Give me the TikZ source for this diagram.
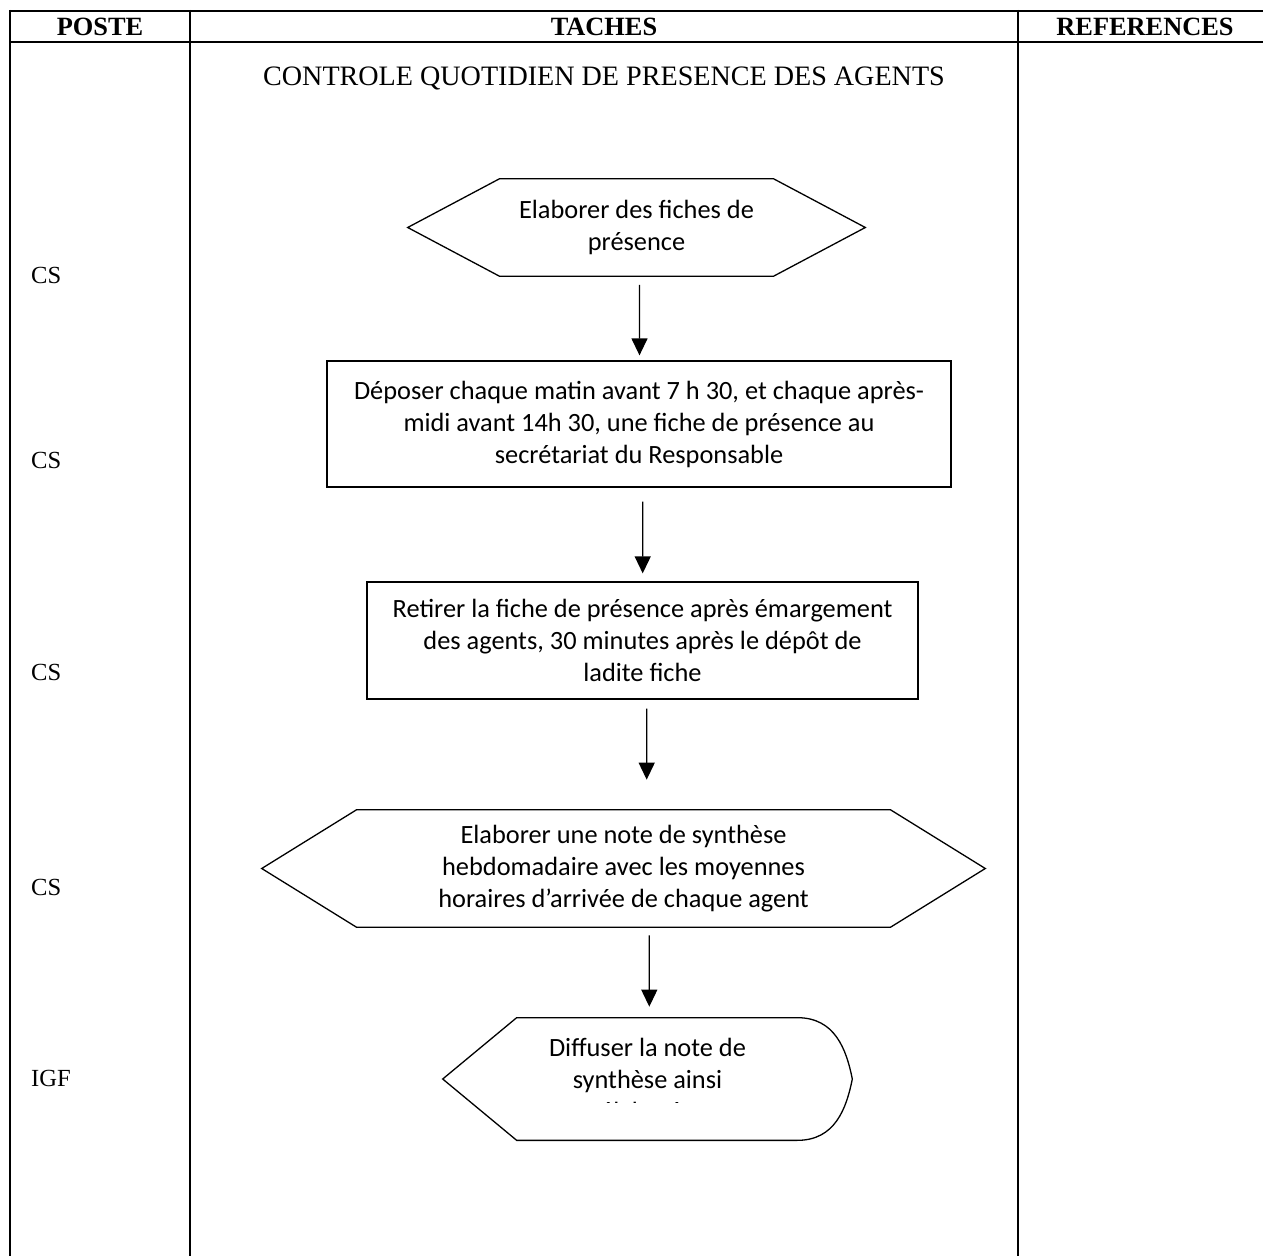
\documentclass[tikz,border=0pt]{standalone}
\usepackage{fontspec}
\setmainfont{Liberation Serif}
\newfontfamily\calibri{Carlito}
\usetikzlibrary{arrows.meta}

\begin{document}
\begin{tikzpicture}[x=0.02cm, y=-0.02cm,
  tabline/.style={line width=0.04cm},
  boxline/.style={line width=0.026cm},
  task/.style={font=\calibri\fontsize{15}{18.2}\selectfont, align=center, inner sep=0pt},
  flow/.style={line width=0.026cm, -{Triangle[length=0.34cm,width=0.32cm]}},
  head/.style={font=\bfseries\fontsize{15}{18}\selectfont},
  poste/.style={font=\fontsize{14}{17}\selectfont, anchor=west}]
\useasboundingbox (0,0) rectangle (1263,1256);
% tableau
\draw[tabline] (9,11)--(1263,11);
\draw[tabline] (9,42)--(1263,42);
\draw[tabline] (10,10)--(10,1256);
\draw[tabline] (190,10)--(190,1256);
\draw[tabline] (1018,10)--(1018,1256);
\node[head] (hposte) at (100,27) {POSTE};
\node[head] (htaches) at (604,27) {TACHES};
\node[head] (hrefs) at (1145,27) {REFERENCES};
\node[font=\fontsize{16}{19}\selectfont] (titre) at (604,78) {CONTROLE QUOTIDIEN DE PRESENCE DES AGENTS};
% postes
\node[poste] (cs1) at (25,275) {CS};
\node[poste] (cs2) at (25,460) {CS};
\node[poste] (cs3) at (25,672) {CS};
\node[poste] (cs4) at (25,887) {CS};
\node[poste] (igf) at (25,1078) {IGF};
% taches
\node[task, minimum width=9.14cm, minimum height=1.94cm] (elab) at (636.5,227.5) {Elaborer des fiches de\\présence};
\draw[boxline] (elab.west) -- ([xshift=1.84cm]elab.north west) -- ([xshift=-1.84cm]elab.north east) -- (elab.east) -- ([xshift=-1.84cm]elab.south east) -- ([xshift=1.84cm]elab.south west) -- cycle;
\node[task, draw, boxline, minimum width=12.48cm, minimum height=2.52cm] (depot) at (639,424) {Déposer chaque matin avant 7 h 30, et chaque après-\\midi avant 14h 30, une fiche de présence au\\secrétariat du Responsable};
\node[task, draw, boxline, minimum width=11.02cm, minimum height=2.34cm] (retrait) at (642.5,640.5) {Retirer la fiche de présence après émargement\\des agents, 30 minutes après le dépôt de\\ladite fiche};
\node[task, minimum width=14.46cm, minimum height=2.34cm] (synth) at (623.5,868.5) {Elaborer une note de synthèse\\hebdomadaire avec les moyennes\\horaires d’arrivée de chaque agent};
\draw[boxline] (synth.west) -- ([xshift=1.9cm]synth.north west) -- ([xshift=-1.9cm]synth.north east) -- (synth.east) -- ([xshift=-1.9cm]synth.south east) -- ([xshift=1.9cm]synth.south west) -- cycle;
\begin{scope}
\clip (400,1000) rectangle (900,1102);
\node[task, minimum width=8.18cm, minimum height=2.44cm] (diff) at (647.5,1079) {Diffuser la note de\\synthèse ainsi\\élaborée};
\end{scope}
\draw[boxline] (diff.west) -- ([xshift=1.48cm]diff.north west) -- ([xshift=-1.1cm]diff.north east)
  .. controls ([xshift=-0.35cm]diff.north east) and ([xshift=-0.12cm,yshift=0.6cm]diff.east) .. (diff.east)
  .. controls ([xshift=-0.12cm,yshift=-0.6cm]diff.east) and ([xshift=-0.35cm]diff.south east) .. ([xshift=-1.1cm]diff.south east)
  -- ([xshift=1.48cm]diff.south west) -- cycle;
% fleches
\draw[flow] ([xshift=0.06cm,yshift=-0.17cm]elab.south) -- ([xshift=0.01cm,yshift=0.1cm]depot.north);
\draw[flow] ([xshift=0.074cm,yshift=-0.28cm]depot.south) -- ([xshift=0.004cm,yshift=0.16cm]retrait.north);
\draw[flow] ([xshift=0.084cm,yshift=-0.18cm]retrait.south) -- ([xshift=0.464cm,yshift=0.6cm]synth.north);
\draw[flow] ([xshift=0.516cm,yshift=-0.16cm]synth.south) -- ([xshift=0.036cm,yshift=0.22cm]diff.north);
\end{tikzpicture}
\end{document}
